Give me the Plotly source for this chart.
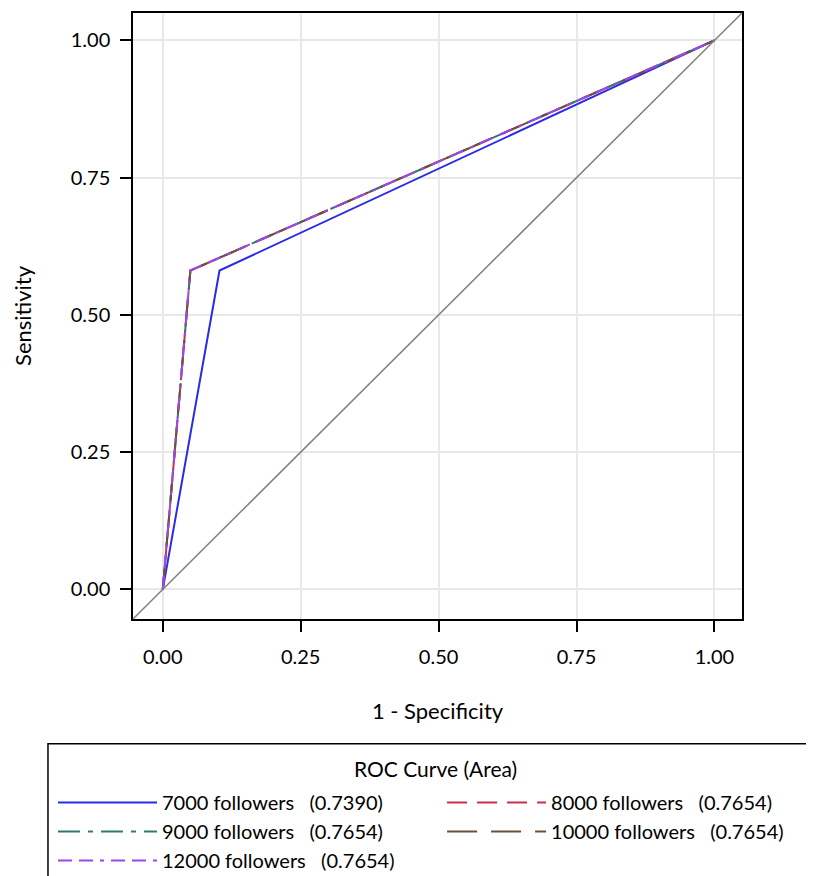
import plotly.graph_objects as go

# ROC curve data (1 - specificity, sensitivity)
NB = "\u00a0"
names = [f"7000 followers{NB*3}(0.7390)", f"8000 followers{NB*3}(0.7654)", f"9000 followers{NB*3}(0.7654)",
         f"10000 followers{NB*3}(0.7654)", f"12000 followers{NB*3}(0.7654)"]
fpr_7000 = [0.0, 0.1028, 1.0]
tpr_7000 = [0.0, 0.5808, 1.0]
fpr_8000 = [0.0, 0.05, 1.0]
tpr_8000 = [0.0, 0.5808, 1.0]
fpr_9000 = [0.0, 0.05, 1.0]
tpr_9000 = [0.0, 0.5808, 1.0]
fpr_10000 = [0.0, 0.05, 1.0]
tpr_10000 = [0.0, 0.5808, 1.0]
fpr_12000 = [0.0, 0.05, 1.0]
tpr_12000 = [0.0, 0.5808, 1.0]
tick_vals = [0.0, 0.25, 0.5, 0.75, 1.0]
tick_text = ["0.00", "0.25", "0.50", "0.75", "1.00"]
legend_title = "ROC Curve (Area)"

colors = ["#2B2BE6", "#C8304E", "#2F7A6E", "#6E5038", "#A245E6"]
dashes = ["solid", "20px,10px", "22px,8px,5px,8px", "30px,14px", "14px,7px,14px,7px,4px,7px"]
legend_ids = ["legend", "legend2", "legend", "legend2", "legend"]
xs = [fpr_7000, fpr_8000, fpr_9000, fpr_10000, fpr_12000]
ys = [tpr_7000, tpr_8000, tpr_9000, tpr_10000, tpr_12000]

FONT = "Lato"
fig = go.Figure()
for n, x, y, c, d, lg in zip(names, xs, ys, colors, dashes, legend_ids):
    fig.add_trace(go.Scatter(x=x, y=y, mode="lines", name=n, legend=lg,
                             line=dict(color=c, width=2, dash=d)))

# diagonal reference line spanning the plot area
fig.add_shape(type="line", xref="paper", yref="paper", x0=0, y0=0, x1=1, y1=1,
              line=dict(color="#808080", width=1.5), layer="above")
# legend frame
fig.add_shape(type="rect", xref="paper", yref="paper", x0=-0.1396, x1=1.3, y0=-0.2059, y1=-0.5,
              line=dict(color="black", width=1.5), fillcolor="rgba(0,0,0,0)")
fig.add_annotation(text=legend_title, xref="paper", yref="paper", x=0.4959, y=-0.2471,
                   xanchor="center", yanchor="middle", showarrow=False,
                   font=dict(family=FONT, size=21, color="black"))

rng = [-0.054, 1.05]
axis_common = dict(range=rng, tickvals=tick_vals, ticktext=tick_text, automargin=False,
                   showline=True, linecolor="black", linewidth=1.5, mirror=True,
                   ticks="outside", ticklen=11, tickwidth=1.5, tickcolor="black",
                   showgrid=True, gridcolor="#E8E8E8", gridwidth=1.5, zeroline=False,
                   tickfont=dict(family=FONT, size=20, color="black"))

leg_common = dict(orientation="v", yanchor="top", xanchor="left", borderwidth=0,
                  bgcolor="rgba(0,0,0,0)", itemwidth=99, tracegroupgap=0,
                  font=dict(family=FONT, size=20, color="black"))

fig.update_layout(
    template="none",
    width=814, height=876,
    margin=dict(l=125, r=80, t=5, b=264),
    plot_bgcolor="white", paper_bgcolor="white",
    font=dict(family=FONT, color="black"),
    xaxis=dict(**axis_common, ticklabelstandoff=8,
               title=dict(text="1 - Specificity", font=dict(family=FONT, size=22), standoff=37)),
    yaxis=dict(**axis_common, ticklabelstandoff=6,
               title=dict(text="Sensitivity", font=dict(family=FONT, size=22), standoff=33)),
    showlegend=True,
    legend=dict(**leg_common, x=-0.1314, y=-0.2685),
    legend2=dict(**leg_common, x=0.5075, y=-0.2685),
)

fig.write_html("out.html")
